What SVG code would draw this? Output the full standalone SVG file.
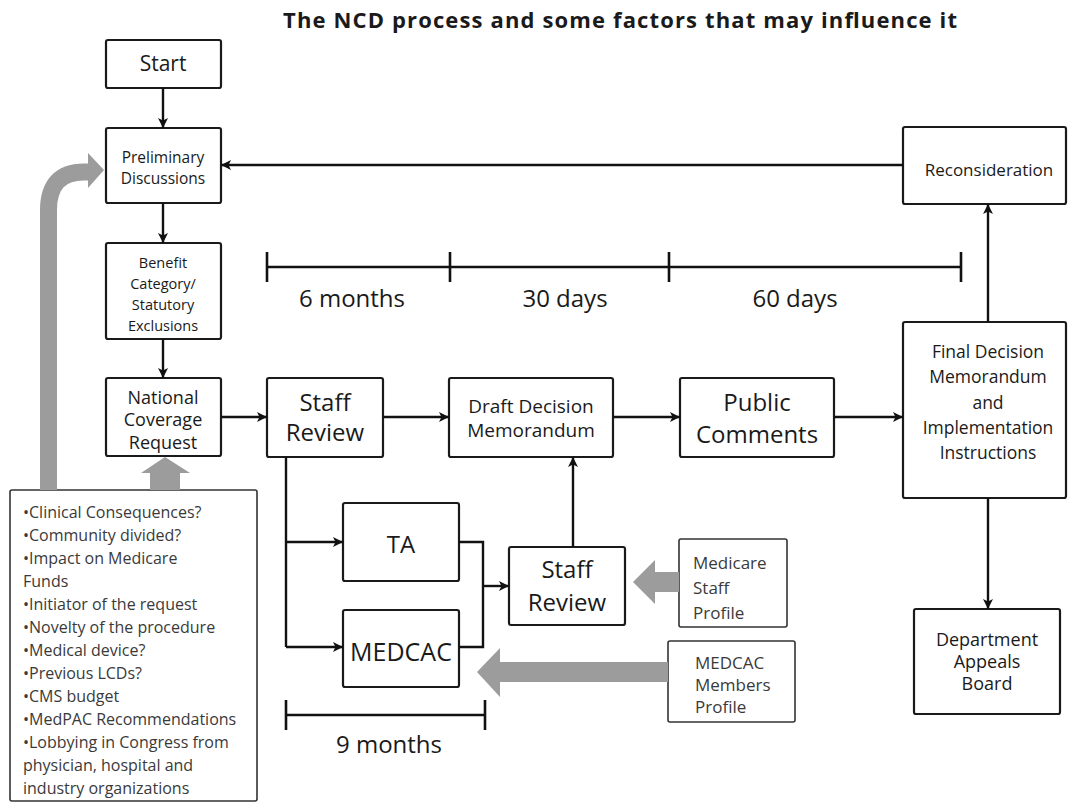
<svg xmlns="http://www.w3.org/2000/svg" width="1069" height="803" viewBox="0 0 1069 803">
<defs>
<marker id="ah" viewBox="0 0 10 10" refX="10" refY="5" markerWidth="11" markerHeight="10" markerUnits="userSpaceOnUse" orient="auto">
<path d="M0,0 L10,5 L0,10 L2.5,5 z" fill="#111"/>
</marker>
<style>
.box{fill:#fff;stroke:#1a1a1a;stroke-width:2.2}
.fbox{fill:#fff;stroke:#333;stroke-width:1.6}
.t{font-family:"Open Sans","DejaVu Sans",sans-serif;fill:#1a1a1a;text-anchor:middle}
.s{font-family:"Open Sans","DejaVu Sans",sans-serif;fill:#3a3a3a}
.c{fill:none;stroke:#111;stroke-width:2.4}
.tl{fill:none;stroke:#111;stroke-width:2.6}
.g{fill:#9c9c9c}
</style>
</defs>
<rect width="1069" height="803" fill="#fff"/>
<text x="620" y="28" class="t" font-size="22" font-weight="bold" textLength="674" lengthAdjust="spacing">The NCD process and some factors that may influence it</text>

<g id="start"><rect class="box" x="106" y="40" width="115" height="48" rx="2"/><text class="t" x="163" y="71" font-size="21">Start</text></g>
<g id="prelim"><rect class="box" x="106" y="128" width="115" height="75" rx="2"/><text class="t" font-size="15.5"><tspan x="163" y="163">Preliminary</tspan><tspan x="163" y="184">Discussions</tspan></text></g>
<g id="benefit"><rect class="box" x="106" y="243" width="115" height="96" rx="2"/><text class="t" font-size="14.5"><tspan x="163" y="268">Benefit</tspan><tspan x="163" y="289">Category/</tspan><tspan x="163" y="310">Statutory</tspan><tspan x="163" y="331">Exclusions</tspan></text></g>
<g id="ncr"><rect class="box" x="106" y="378" width="115" height="78" rx="2"/><text class="t" font-size="18"><tspan x="163" y="404">National</tspan><tspan x="163" y="426">Coverage</tspan><tspan x="163" y="449">Request</tspan></text></g>
<g id="staff1"><rect class="box" x="267" y="378" width="116" height="79" rx="2"/><text class="t" font-size="24"><tspan x="325" y="411">Staff</tspan><tspan x="325" y="441">Review</tspan></text></g>
<g id="draft"><rect class="box" x="449" y="378" width="164" height="79" rx="2"/><text class="t" font-size="19"><tspan x="531" y="413">Draft Decision</tspan><tspan x="531" y="437">Memorandum</tspan></text></g>
<g id="public"><rect class="box" x="680" y="378" width="154" height="79" rx="2"/><text class="t" font-size="24"><tspan x="757" y="411">Public</tspan><tspan x="757" y="443">Comments</tspan></text></g>
<g id="final"><rect class="box" x="903" y="322" width="163" height="176" rx="2"/><text class="t" font-size="17.5"><tspan x="988" y="358">Final Decision</tspan><tspan x="988" y="383">Memorandum</tspan><tspan x="988" y="409">and</tspan><tspan x="988" y="434">Implementation</tspan><tspan x="988" y="459">Instructions</tspan></text></g>
<g id="recon"><rect class="box" x="903" y="127" width="163" height="77" rx="2"/><text class="t" x="989" y="176" font-size="17">Reconsideration</text></g>
<g id="dab"><rect class="box" x="914" y="609" width="146" height="105" rx="2"/><text class="t" font-size="18"><tspan x="987" y="646">Department</tspan><tspan x="987" y="668">Appeals</tspan><tspan x="987" y="690">Board</tspan></text></g>
<g id="ta"><rect class="box" x="343" y="503" width="116" height="78" rx="2"/><text class="t" x="401" y="553" font-size="24">TA</text></g>
<g id="medcac"><rect class="box" x="343" y="610" width="116" height="77" rx="2"/><text class="t" x="401" y="661" font-size="25">MEDCAC</text></g>
<g id="staff2"><rect class="box" x="509" y="547" width="116" height="78" rx="2"/><text class="t" font-size="24"><tspan x="567" y="578">Staff</tspan><tspan x="567" y="611">Review</tspan></text></g>
<g id="medicare-profile"><rect class="fbox" x="679" y="539" width="108" height="88" rx="2"/><text class="s" font-size="17"><tspan x="693" y="569">Medicare</tspan><tspan x="693" y="594">Staff</tspan><tspan x="693" y="619">Profile</tspan></text></g>
<g id="medcac-profile"><rect class="fbox" x="668" y="641" width="127" height="81" rx="2"/><text class="s" font-size="17"><tspan x="695" y="669">MEDCAC</tspan><tspan x="695" y="691">Members</tspan><tspan x="695" y="713">Profile</tspan></text></g>
<g id="factors"><rect class="fbox" x="10" y="490" width="247" height="311" rx="2"/><text class="s" font-size="16"><tspan x="23" y="518">•Clinical Consequences?</tspan><tspan x="23" y="541">•Community divided?</tspan><tspan x="23" y="564">•Impact on Medicare</tspan><tspan x="23" y="587">Funds</tspan><tspan x="23" y="610">•Initiator of the request</tspan><tspan x="23" y="633">•Novelty of the procedure</tspan><tspan x="23" y="656">•Medical device?</tspan><tspan x="23" y="679">•Previous LCDs?</tspan><tspan x="23" y="702">•CMS budget</tspan><tspan x="23" y="725">•MedPAC Recommendations</tspan><tspan x="23" y="748">•Lobbying in Congress from</tspan><tspan x="23" y="771">physician, hospital and</tspan><tspan x="23" y="794">industry organizations</tspan></text></g>

<g id="timelines">
<path class="tl" d="M267,267 H961 M267,252 V282 M450,252 V282 M669,252 V282 M961,252 V282"/>
<text class="t" font-size="24"><tspan x="352" y="307">6 months</tspan><tspan x="565" y="307">30 days</tspan><tspan x="795" y="307">60 days</tspan></text>
<path class="tl" d="M286,715 H485 M286,700 V730 M485,700 V730"/>
<text class="t" x="389" y="753" font-size="24">9 months</text>
</g>

<g id="influences">
<path d="M48.5,490 V210 Q48.5,172 84,172 H90" fill="none" stroke="#9c9c9c" stroke-width="17"/>
<polygon class="g" points="88,153 104,170 88,188"/>
<polygon class="g" points="150,490 180,490 180,473 190,473 165,457 141,473 150,473"/>
<polygon class="g" points="679,572 655,572 655,560 633,582 655,604 655,592 679,592"/>
<polygon class="g" points="668,662 500,662 500,648 477,672 500,697 500,682 668,682"/>
</g>

<g id="connectors">
<path class="c" d="M163,88 V128" marker-end="url(#ah)"/>
<path class="c" d="M163,203 V243" marker-end="url(#ah)"/>
<path class="c" d="M163,339 V378" marker-end="url(#ah)"/>
<path class="c" d="M221,417 H267" marker-end="url(#ah)"/>
<path class="c" d="M383,417 H449" marker-end="url(#ah)"/>
<path class="c" d="M613,417 H680" marker-end="url(#ah)"/>
<path class="c" d="M834,417 H903" marker-end="url(#ah)"/>
<path class="c" d="M988,322 V204" marker-end="url(#ah)"/>
<path class="c" d="M903,165 H221" marker-end="url(#ah)"/>
<path class="c" d="M988,498 V609" marker-end="url(#ah)"/>
<path class="c" d="M286,457 V647"/>
<path class="c" d="M286,542 H343" marker-end="url(#ah)"/>
<path class="c" d="M286,647 H343" marker-end="url(#ah)"/>
<path class="c" d="M459,542 H483 V647 H459"/>
<path class="c" d="M483,586 H509" marker-end="url(#ah)"/>
<path class="c" d="M573,547 V457" marker-end="url(#ah)"/>
</g>
</svg>
